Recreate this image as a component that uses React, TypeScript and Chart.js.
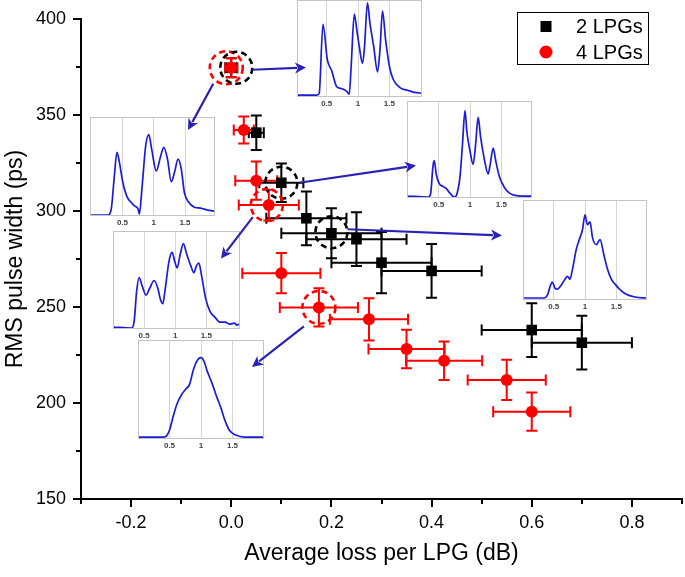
import React, { useEffect, useRef } from 'react';
import { Chart, registerables } from 'chart.js';

Chart.register(...registerables);

const FONT = "'Liberation Sans', Arial, Helvetica, sans-serif";
const TRACE_BLUE = '#1c1cd8';
const ARROW_BLUE = '#2a22b4';
const CLEAR = 'rgba(0,0,0,0)';

// ---------- main data: average loss per LPG (dB) vs RMS pulse width (ps) ----------
const LPG2_LOSS = [0.0, 0.05, 0.1, 0.15, 0.2, 0.25, 0.3, 0.4, 0.6, 0.7];
const LPG2_WIDTH = [374.6, 340.8, 314.7, 296.2, 288.4, 285.3, 273.1, 268.8, 238.0, 231.4];
const LPG2_LOSS_ERR = [0.012, 0.015, 0.044, 0.08, 0.1, 0.1, 0.1, 0.1, 0.1, 0.1];
const LPG2_WIDTH_ERR = [5, 9, 10, 14, 13, 14, 16, 14, 14, 14];

const LPG4_LOSS = [0.0, 0.025, 0.05, 0.075, 0.1, 0.175, 0.275, 0.35, 0.425, 0.55, 0.6];
const LPG4_WIDTH = [374.6, 342.2, 315.8, 303.1, 267.6, 249.8, 243.6, 228.1, 222.0, 212.0, 195.5];
const LPG4_LOSS_ERR = [0.012, 0.02, 0.042, 0.06, 0.078, 0.078, 0.078, 0.076, 0.076, 0.078, 0.077];
const LPG4_WIDTH_ERR = [5, 7, 10, 8, 10.5, 10, 11, 10, 10, 10.5, 10];

const X_TICK_LABELS = ['-0.2', '0.0', '0.2', '0.4', '0.6', '0.8'];
const Y_TICK_LABELS = ['150', '200', '250', '300', '350', '400'];

// ---------- inset pulse traces (time, normalised amplitude) ----------
const PULSE_A_T = [0.03, 0.34, 0.38, 0.44, 0.51, 0.58, 0.66, 0.74, 0.82, 0.86, 0.89, 0.94, 0.98, 1.02, 1.07, 1.10, 1.15, 1.19, 1.25, 1.31, 1.35, 1.39, 1.44, 1.50, 1.56, 1.67, 1.80, 1.90, 2.02];
const PULSE_A_V = [0.01, 0.01, 0.03, 0.77, 0.39, 0.27, 0.10, 0.08, 0.05, 0.02, 0.32, 0.88, 0.71, 0.53, 0.35, 0.50, 1.0, 0.78, 0.53, 0.26, 0.50, 0.91, 0.60, 0.32, 0.18, 0.09, 0.06, 0.04, 0.03];

const PULSE_B_T = [-0.02, 0.27, 0.32, 0.37, 0.41, 0.45, 0.50, 0.57, 0.65, 0.70, 0.75, 0.77, 0.81, 0.87, 0.92, 0.97, 1.04, 1.11, 1.16, 1.22, 1.28, 1.33, 1.39, 1.44, 1.49, 1.56, 1.65, 1.75, 1.86, 1.98];
const PULSE_B_V = [0.0, 0.0, 0.06, 0.40, 0.64, 0.54, 0.35, 0.19, 0.12, 0.09, 0.06, 0.01, 0.26, 0.70, 0.82, 0.66, 0.45, 0.60, 0.69, 0.57, 0.34, 0.43, 0.57, 0.47, 0.23, 0.13, 0.08, 0.07, 0.05, 0.04];

const PULSE_C_T = [0.0, 0.33, 0.37, 0.41, 0.43, 0.46, 0.51, 0.57, 0.62, 0.68, 0.75, 0.79, 0.84, 0.88, 0.92, 0.95, 1.0, 1.05, 1.09, 1.13, 1.17, 1.23, 1.29, 1.32, 1.37, 1.41, 1.47, 1.55, 1.63, 1.70, 1.85, 2.0];
const PULSE_C_V = [0.01, 0.0, 0.03, 0.33, 0.38, 0.24, 0.14, 0.11, 0.09, 0.04, 0.0, 0.03, 0.21, 0.55, 0.90, 0.68, 0.48, 0.34, 0.55, 0.83, 0.62, 0.39, 0.24, 0.33, 0.51, 0.38, 0.21, 0.10, 0.04, 0.02, 0.01, 0.01];

const PULSE_D_T = [0.0, 0.30, 0.34, 0.38, 0.42, 0.47, 0.53, 0.59, 0.66, 0.72, 0.76, 0.80, 0.83, 0.90, 0.95, 0.99, 1.03, 1.08, 1.13, 1.18, 1.25, 1.30, 1.34, 1.38, 1.42, 1.49, 1.56, 1.64, 1.72, 1.80, 1.88, 1.95, 1.99, 2.03];
const PULSE_D_V = [0.01, 0.0, 0.07, 0.38, 0.52, 0.43, 0.34, 0.41, 0.49, 0.41, 0.30, 0.25, 0.36, 0.69, 0.78, 0.69, 0.62, 0.76, 0.87, 0.77, 0.64, 0.57, 0.64, 0.67, 0.55, 0.30, 0.17, 0.11, 0.06, 0.06, 0.04, 0.05, 0.03, 0.04];

const PULSE_E_T = [0.01, 0.35, 0.40, 0.45, 0.48, 0.52, 0.56, 0.62, 0.68, 0.72, 0.76, 0.80, 0.86, 0.92, 0.96, 1.00, 1.04, 1.08, 1.12, 1.18, 1.24, 1.30, 1.36, 1.42, 1.48, 1.55, 1.65, 1.80, 1.98];
const PULSE_E_V = [0.01, 0.01, 0.04, 0.14, 0.17, 0.11, 0.10, 0.14, 0.20, 0.23, 0.20, 0.30, 0.50, 0.62, 0.70, 0.85, 0.75, 0.78, 0.62, 0.55, 0.60, 0.45, 0.30, 0.20, 0.15, 0.10, 0.05, 0.02, 0.01];

const PULSE_F_T = [0.0, 0.40, 0.45, 0.50, 0.55, 0.62, 0.70, 0.76, 0.82, 0.88, 0.95, 1.00, 1.05, 1.10, 1.18, 1.25, 1.32, 1.38, 1.45, 1.55, 1.70, 2.0];
const PULSE_F_V = [0.01, 0.01, 0.02, 0.08, 0.20, 0.35, 0.45, 0.50, 0.55, 0.70, 0.80, 0.82, 0.78, 0.68, 0.55, 0.42, 0.30, 0.18, 0.08, 0.03, 0.01, 0.01];

const INSET_TICKS = [0.5, 1, 1.5];

// layout of insets (pixel boxes) + their axis ranges
const INSETS = [
  { t: PULSE_A_T, v: PULSE_A_V, xMin: 0.026, xMax: 2.02, yMax: 1.03, left: 297, top: 0, w: 125, h: 97 },
  { t: PULSE_B_T, v: PULSE_B_V, xMin: -0.02, xMax: 1.98, yMax: 1.0, left: 90, top: 117, w: 125, h: 99 },
  { t: PULSE_C_T, v: PULSE_C_V, xMin: -0.006, xMax: 1.99, yMax: 1.0, left: 407, top: 101, w: 125, h: 97 },
  { t: PULSE_D_T, v: PULSE_D_V, xMin: 0.0, xMax: 2.04, yMax: 1.0, left: 113, top: 231, w: 127, h: 98 },
  { t: PULSE_E_T, v: PULSE_E_V, xMin: 0.01, xMax: 1.99, yMax: 1.0, left: 523, top: 200, w: 124, h: 100 },
  { t: PULSE_F_T, v: PULSE_F_V, xMin: 0.0, xMax: 2.0, yMax: 1.0, left: 138, top: 340, w: 126, h: 99 },
];
const INSET_LABEL_H = 14;

// highlight circles (dataset index, point index, offset, radius)
const CIRCLES = [
  { ds: 1, i: 0, dx: -5, dy: 0, r: 16.5 },
  { ds: 0, i: 0, dx: 5, dy: 0, r: 16 },
  { ds: 0, i: 2, dx: 0, dy: 0, r: 16 },
  { ds: 0, i: 4, dx: 0, dy: -1, r: 16 },
  { ds: 1, i: 3, dx: -2, dy: 0, r: 16 },
  { ds: 1, i: 5, dx: 0, dy: 0, r: 16.5 },
];

// arrows from highlighted points to inset boxes (end in page pixels)
const ARROWS = [
  { ds: 0, i: 0, dx: 21, dy: 2, ex: 306, ey: 67.5 },
  { ds: 1, i: 0, dx: -18, dy: 16, ex: 188, ey: 130 },
  { ds: 0, i: 2, dx: 18, dy: 0, ex: 416, ey: 165.5 },
  { ds: 0, i: 4, dx: 16, dy: -4, ex: 502, ey: 235.5 },
  { ds: 1, i: 3, dx: -16, dy: 12, ex: 221, ey: 258.5 },
  { ds: 1, i: 5, dx: -15, dy: 19, ex: 252, ey: 367 },
];

function drawArrow(ctx: CanvasRenderingContext2D, x0: number, y0: number, x1: number, y1: number) {
  const ang = Math.atan2(y1 - y0, x1 - x0);
  const L = 11;
  const W = 5.5;
  const c = Math.cos(ang);
  const s = Math.sin(ang);
  const bx = x1 - L * c;
  const by = y1 - L * s;
  ctx.beginPath();
  ctx.moveTo(x0, y0);
  ctx.lineTo(bx + 2 * c, by + 2 * s);
  ctx.stroke();
  ctx.beginPath();
  ctx.moveTo(x1, y1);
  ctx.lineTo(bx - W * s, by + W * c);
  ctx.lineTo(bx + 3 * c, by + 3 * s);
  ctx.lineTo(bx + W * s, by - W * c);
  ctx.closePath();
  ctx.fill();
}

const extrasPlugin = {
  id: 'extras',
  beforeDatasetsDraw(chart: any) {
    const { ctx } = chart;
    const xs = chart.scales.x;
    const ys = chart.scales.y;
    const cap = 5.5;
    ctx.save();
    ctx.lineWidth = 2;
    chart.data.datasets.forEach((ds: any) => {
      ctx.strokeStyle = ds.backgroundColor;
      ds.data.forEach((p: any, i: number) => {
        const x = xs.getPixelForValue(p.x);
        const y = ys.getPixelForValue(p.y);
        const x0 = xs.getPixelForValue(p.x - ds.errX[i]);
        const x1 = xs.getPixelForValue(p.x + ds.errX[i]);
        const y0 = ys.getPixelForValue(p.y - ds.errY[i]);
        const y1 = ys.getPixelForValue(p.y + ds.errY[i]);
        ctx.beginPath();
        ctx.moveTo(x0, y); ctx.lineTo(x1, y);
        ctx.moveTo(x0, y - cap); ctx.lineTo(x0, y + cap);
        ctx.moveTo(x1, y - cap); ctx.lineTo(x1, y + cap);
        ctx.moveTo(x, y0); ctx.lineTo(x, y1);
        ctx.moveTo(x - cap, y0); ctx.lineTo(x + cap, y0);
        ctx.moveTo(x - cap, y1); ctx.lineTo(x + cap, y1);
        ctx.stroke();
      });
    });
    ctx.restore();
  },
  afterDatasetsDraw(chart: any) {
    const { ctx } = chart;
    const xs = chart.scales.x;
    const ys = chart.scales.y;
    const px = (ds: number, i: number) => {
      const p = chart.data.datasets[ds].data[i];
      return [xs.getPixelForValue(p.x), ys.getPixelForValue(p.y)];
    };
    ctx.save();
    ctx.lineWidth = 2.6;
    ctx.setLineDash([6, 4]);
    CIRCLES.forEach((c) => {
      const [x, y] = px(c.ds, c.i);
      ctx.strokeStyle = chart.data.datasets[c.ds].backgroundColor;
      ctx.beginPath();
      ctx.arc(x + c.dx, y + c.dy, c.r, 0, Math.PI * 2);
      ctx.stroke();
    });
    ctx.setLineDash([]);
    ctx.strokeStyle = ARROW_BLUE;
    ctx.fillStyle = ARROW_BLUE;
    ctx.lineWidth = 2.2;
    ARROWS.forEach((a) => {
      const [x, y] = px(a.ds, a.i);
      drawArrow(ctx, x + a.dx, y + a.dy, a.ex, a.ey);
    });
    ctx.restore();
  },
  afterDraw(chart: any) {
    const { ctx, chartArea } = chart;
    const xs = chart.scales.x;
    const ys = chart.scales.y;
    ctx.save();
    ctx.strokeStyle = '#000';
    ctx.lineWidth = 2;
    ctx.beginPath();
    xs.ticks.forEach((t: any) => {
      const k = Math.round(t.value * 10);
      const len = k % 2 === 0 ? 8 : 5;
      const x = Math.round(xs.getPixelForValue(t.value));
      ctx.moveTo(x, chartArea.bottom);
      ctx.lineTo(x, chartArea.bottom + len);
    });
    ys.ticks.forEach((t: any) => {
      const len = Math.round(t.value) % 50 === 0 ? 8 : 5;
      const y = Math.round(ys.getPixelForValue(t.value));
      ctx.moveTo(chartArea.left, y);
      ctx.lineTo(chartArea.left - len, y);
    });
    ctx.stroke();

    // legend
    const bx = 517.5, by = 12.5, bw = 131, bh = 52;
    ctx.lineWidth = 1;
    ctx.strokeStyle = '#000';
    ctx.strokeRect(bx, by, bw, bh);
    ctx.font = `20px ${FONT}`;
    ctx.textBaseline = 'middle';
    ctx.textAlign = 'left';
    chart.data.datasets.forEach((ds: any, i: number) => {
      const cy = by + 14 + i * 25.5;
      const cx = 546;
      ctx.fillStyle = ds.backgroundColor;
      if (ds.pointStyle === 'rect') {
        ctx.fillRect(cx - 5.5, cy - 5.5, 11, 11);
      } else {
        ctx.beginPath();
        ctx.arc(cx, cy, 6.5, 0, Math.PI * 2);
        ctx.fill();
      }
      ctx.fillStyle = '#000';
      ctx.fillText(ds.label, 576, cy + 1);
    });
    ctx.restore();
  },
};

const insetBoxPlugin = {
  id: 'insetBox',
  afterDraw(chart: any) {
    const { ctx, chartArea } = chart;
    ctx.save();
    ctx.strokeStyle = '#c4c4c4';
    ctx.lineWidth = 1;
    ctx.strokeRect(chartArea.left + 0.5, chartArea.top + 0.5, chartArea.right - chartArea.left - 1, chartArea.bottom - chartArea.top - 1);
    ctx.restore();
  },
};

function Inset({ cfg }: { cfg: any }) {
  const ref = useRef<HTMLCanvasElement | null>(null);
  useEffect(() => {
    if (!ref.current) return;
    const chart = new Chart(ref.current, {
      type: 'line',
      data: {
        datasets: [
          {
            data: cfg.t.map((t: number, i: number) => ({ x: t, y: cfg.v[i] })),
            borderColor: TRACE_BLUE,
            borderWidth: 1.7,
            pointRadius: 0,
            cubicInterpolationMode: 'monotone',
            fill: false,
          },
        ],
      },
      options: {
        animation: false,
        responsive: false,
        events: [],
        layout: { autoPadding: false, padding: 0 },
        plugins: { legend: { display: false }, tooltip: { enabled: false } },
        scales: {
          x: {
            type: 'linear',
            min: cfg.xMin,
            max: cfg.xMax,
            afterBuildTicks: (s: any) => {
              s.ticks = INSET_TICKS.map((v) => ({ value: v }));
            },
            afterFit: (s: any) => {
              s.height = INSET_LABEL_H;
            },
            grid: { color: '#d6d6d6', lineWidth: 1, drawTicks: true, tickLength: 2, tickColor: CLEAR },
            border: { display: false },
            ticks: {
              padding: 0,
              autoSkip: false,
              maxRotation: 0,
              font: { size: 8, weight: 'bold', family: FONT },
              color: '#444',
              callback: (v: any) => String(v),
            },
          },
          y: { display: false, min: -0.01, max: cfg.yMax },
        },
      } as any,
      plugins: [insetBoxPlugin],
    });
    return () => chart.destroy();
  }, []);
  return (
    <canvas
      ref={ref}
      width={cfg.w}
      height={cfg.h + INSET_LABEL_H}
      style={{ position: 'absolute', left: cfg.left, top: cfg.top, width: cfg.w, height: cfg.h + INSET_LABEL_H, zIndex: 1 }}
    />
  );
}

function MainChart() {
  const ref = useRef<HTMLCanvasElement | null>(null);
  useEffect(() => {
    if (!ref.current) return;
    const chart = new Chart(ref.current, {
      type: 'scatter',
      data: {
        datasets: [
          {
            label: '2 LPGs',
            data: LPG2_LOSS.map((x, i) => ({ x, y: LPG2_WIDTH[i] })),
            errX: LPG2_LOSS_ERR,
            errY: LPG2_WIDTH_ERR,
            pointStyle: 'rect',
            pointRadius: 7.5,
            backgroundColor: '#000000',
            borderColor: '#000000',
            borderWidth: 0,
            order: 2,
          } as any,
          {
            label: '4 LPGs',
            data: LPG4_LOSS.map((x, i) => ({ x, y: LPG4_WIDTH[i] })),
            errX: LPG4_LOSS_ERR,
            errY: LPG4_WIDTH_ERR,
            pointStyle: 'circle',
            pointRadius: 6,
            backgroundColor: '#ff0000',
            borderColor: '#ff0000',
            borderWidth: 0,
            order: 1,
          } as any,
        ],
      },
      options: {
        animation: false,
        responsive: false,
        events: [],
        layout: { autoPadding: false, padding: { top: 19, right: 3, left: 0, bottom: 0 } },
        plugins: { legend: { display: false }, tooltip: { enabled: false } },
        scales: {
          x: {
            type: 'linear',
            min: -0.3,
            max: 0.9,
            afterFit: (s: any) => {
              s.height = 78;
            },
            grid: { display: true, drawOnChartArea: false, drawTicks: true, tickLength: 13, color: CLEAR, tickColor: CLEAR },
            border: { display: true, color: '#000', width: 2 },
            ticks: {
              stepSize: 0.1,
              autoSkip: false,
              maxRotation: 0,
              padding: 0,
              color: '#000',
              font: { size: 18, family: FONT },
              callback: (v: any) => {
                const k = Math.round(Number(v) * 10);
                const idx = k % 2 === 0 ? (k + 2) / 2 : -1;
                return idx >= 0 && idx < X_TICK_LABELS.length ? X_TICK_LABELS[idx] : '';
              },
            },
            title: {
              display: true,
              text: 'Average loss per LPG (dB)',
              color: '#000',
              font: { size: 23, family: FONT },
              padding: { top: 0, bottom: 10 },
            },
          },
          y: {
            type: 'linear',
            min: 150,
            max: 400,
            afterFit: (s: any) => {
              s.width = 81;
            },
            grid: { display: true, drawOnChartArea: false, drawTicks: true, tickLength: 15, color: CLEAR, tickColor: CLEAR },
            border: { display: true, color: '#000', width: 2 },
            ticks: {
              stepSize: 25,
              autoSkip: false,
              padding: 0,
              color: '#000',
              font: { size: 18, family: FONT },
              callback: (v: any) => {
                const n = Math.round(Number(v));
                const idx = n % 50 === 0 ? (n - 150) / 50 : -1;
                return idx >= 0 && idx < Y_TICK_LABELS.length ? Y_TICK_LABELS[idx] : '';
              },
            },
            title: {
              display: true,
              text: 'RMS pulse width (ps)',
              color: '#000',
              font: { size: 23, family: FONT },
              padding: { top: 2, bottom: 0 },
            },
          },
        },
      } as any,
      plugins: [extrasPlugin],
    });
    return () => chart.destroy();
  }, []);
  return (
    <canvas
      ref={ref}
      width={685}
      height={577}
      style={{ position: 'absolute', left: 0, top: 0, width: 685, height: 577, zIndex: 2 }}
    />
  );
}

export default function App() {
  return (
    <div style={{ position: 'fixed', left: 0, top: 0, width: 685, height: 577, background: '#fff', overflow: 'hidden' }}>
      {INSETS.map((cfg, i) => (
        <Inset key={i} cfg={cfg} />
      ))}
      <MainChart />
    </div>
  );
}
